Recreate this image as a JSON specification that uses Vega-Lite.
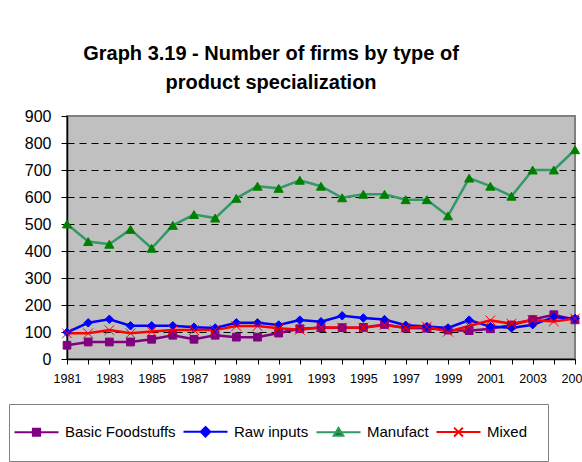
{
  "$schema": "https://vega.github.io/schema/vega-lite/v6.json",
  "width": 508,
  "height": 243,
  "autosize": "none",
  "padding": {"left": 67, "top": 116, "right": 7, "bottom": 103},
  "background": "white",
  "title": {
    "text": ["Graph 3.19 - Number of firms by  type of", "product specialization"],
    "font": "Liberation Sans",
    "fontSize": 20,
    "fontWeight": "bold",
    "color": "#000000",
    "anchor": "middle",
    "dx": -50,
    "dy": 21,
    "lineHeight": 29,
    "baseline": "alphabetic",
    "offset": 20
  },
  "datasets": {
    "rows": [
      {"year": 1981, "series": "Basic Foodstuffs", "value": 51},
      {"year": 1982, "series": "Basic Foodstuffs", "value": 63},
      {"year": 1983, "series": "Basic Foodstuffs", "value": 63},
      {"year": 1984, "series": "Basic Foodstuffs", "value": 63},
      {"year": 1985, "series": "Basic Foodstuffs", "value": 73},
      {"year": 1986, "series": "Basic Foodstuffs", "value": 88},
      {"year": 1987, "series": "Basic Foodstuffs", "value": 73},
      {"year": 1988, "series": "Basic Foodstuffs", "value": 88},
      {"year": 1989, "series": "Basic Foodstuffs", "value": 81},
      {"year": 1990, "series": "Basic Foodstuffs", "value": 81},
      {"year": 1991, "series": "Basic Foodstuffs", "value": 96},
      {"year": 1992, "series": "Basic Foodstuffs", "value": 112},
      {"year": 1993, "series": "Basic Foodstuffs", "value": 116},
      {"year": 1994, "series": "Basic Foodstuffs", "value": 116},
      {"year": 1995, "series": "Basic Foodstuffs", "value": 117},
      {"year": 1996, "series": "Basic Foodstuffs", "value": 128},
      {"year": 1997, "series": "Basic Foodstuffs", "value": 115},
      {"year": 1998, "series": "Basic Foodstuffs", "value": 114},
      {"year": 1999, "series": "Basic Foodstuffs", "value": 107},
      {"year": 2000, "series": "Basic Foodstuffs", "value": 105},
      {"year": 2001, "series": "Basic Foodstuffs", "value": 112},
      {"year": 2002, "series": "Basic Foodstuffs", "value": 126},
      {"year": 2003, "series": "Basic Foodstuffs", "value": 146},
      {"year": 2004, "series": "Basic Foodstuffs", "value": 164},
      {"year": 2005, "series": "Basic Foodstuffs", "value": 145},
      {"year": 1981, "series": "Raw inputs", "value": 99},
      {"year": 1982, "series": "Raw inputs", "value": 134},
      {"year": 1983, "series": "Raw inputs", "value": 147},
      {"year": 1984, "series": "Raw inputs", "value": 123},
      {"year": 1985, "series": "Raw inputs", "value": 123},
      {"year": 1986, "series": "Raw inputs", "value": 123},
      {"year": 1987, "series": "Raw inputs", "value": 118},
      {"year": 1988, "series": "Raw inputs", "value": 115},
      {"year": 1989, "series": "Raw inputs", "value": 134},
      {"year": 1990, "series": "Raw inputs", "value": 134},
      {"year": 1991, "series": "Raw inputs", "value": 126},
      {"year": 1992, "series": "Raw inputs", "value": 144},
      {"year": 1993, "series": "Raw inputs", "value": 138},
      {"year": 1994, "series": "Raw inputs", "value": 160},
      {"year": 1995, "series": "Raw inputs", "value": 152},
      {"year": 1996, "series": "Raw inputs", "value": 146},
      {"year": 1997, "series": "Raw inputs", "value": 125},
      {"year": 1998, "series": "Raw inputs", "value": 120},
      {"year": 1999, "series": "Raw inputs", "value": 115},
      {"year": 2000, "series": "Raw inputs", "value": 144},
      {"year": 2001, "series": "Raw inputs", "value": 120},
      {"year": 2002, "series": "Raw inputs", "value": 115},
      {"year": 2003, "series": "Raw inputs", "value": 127},
      {"year": 2004, "series": "Raw inputs", "value": 155},
      {"year": 2005, "series": "Raw inputs", "value": 150},
      {"year": 1981, "series": "Manufact", "value": 500},
      {"year": 1982, "series": "Manufact", "value": 435},
      {"year": 1983, "series": "Manufact", "value": 425},
      {"year": 1984, "series": "Manufact", "value": 480},
      {"year": 1985, "series": "Manufact", "value": 410},
      {"year": 1986, "series": "Manufact", "value": 495},
      {"year": 1987, "series": "Manufact", "value": 535},
      {"year": 1988, "series": "Manufact", "value": 522},
      {"year": 1989, "series": "Manufact", "value": 595},
      {"year": 1990, "series": "Manufact", "value": 640},
      {"year": 1991, "series": "Manufact", "value": 632},
      {"year": 1992, "series": "Manufact", "value": 662},
      {"year": 1993, "series": "Manufact", "value": 640},
      {"year": 1994, "series": "Manufact", "value": 597},
      {"year": 1995, "series": "Manufact", "value": 610},
      {"year": 1996, "series": "Manufact", "value": 610},
      {"year": 1997, "series": "Manufact", "value": 590},
      {"year": 1998, "series": "Manufact", "value": 590},
      {"year": 1999, "series": "Manufact", "value": 530},
      {"year": 2000, "series": "Manufact", "value": 670},
      {"year": 2001, "series": "Manufact", "value": 640},
      {"year": 2002, "series": "Manufact", "value": 603},
      {"year": 2003, "series": "Manufact", "value": 700},
      {"year": 2004, "series": "Manufact", "value": 700},
      {"year": 2005, "series": "Manufact", "value": 775},
      {"year": 1981, "series": "Mixed", "value": 95},
      {"year": 1982, "series": "Mixed", "value": 95},
      {"year": 1983, "series": "Mixed", "value": 107},
      {"year": 1984, "series": "Mixed", "value": 95},
      {"year": 1985, "series": "Mixed", "value": 102},
      {"year": 1986, "series": "Mixed", "value": 107},
      {"year": 1987, "series": "Mixed", "value": 107},
      {"year": 1988, "series": "Mixed", "value": 107},
      {"year": 1989, "series": "Mixed", "value": 122},
      {"year": 1990, "series": "Mixed", "value": 122},
      {"year": 1991, "series": "Mixed", "value": 114},
      {"year": 1992, "series": "Mixed", "value": 108},
      {"year": 1993, "series": "Mixed", "value": 118},
      {"year": 1994, "series": "Mixed", "value": 116},
      {"year": 1995, "series": "Mixed", "value": 116},
      {"year": 1996, "series": "Mixed", "value": 126},
      {"year": 1997, "series": "Mixed", "value": 116},
      {"year": 1998, "series": "Mixed", "value": 120},
      {"year": 1999, "series": "Mixed", "value": 101},
      {"year": 2000, "series": "Mixed", "value": 122},
      {"year": 2001, "series": "Mixed", "value": 143},
      {"year": 2002, "series": "Mixed", "value": 131},
      {"year": 2003, "series": "Mixed", "value": 144},
      {"year": 2004, "series": "Mixed", "value": 139},
      {"year": 2005, "series": "Mixed", "value": 150}
    ]
  },
  "data": {"name": "rows"},
  "encoding": {
    "x": {
      "field": "year",
      "type": "quantitative",
      "scale": {"domain": [1981, 2005], "nice": false, "zero": false},
      "axis": {
        "title": null,
        "values": [1981,1982,1983,1984,1985,1986,1987,1988,1989,1990,1991,1992,1993,1994,1995,1996,1997,1998,1999,2000,2001,2002,2003,2004,2005],
        "format": "d",
        "labelExpr": "datum.value % 2 == 1 ? datum.label : ''",
        "labelFont": "Liberation Sans",
        "labelFontSize": 12.5,
        "labelColor": "#000000",
        "labelPadding": 8,
        "labelOverlap": false,
        "labelFlush": false,
        "tickSize": 5,
        "tickColor": "#000000",
        "domainColor": "#000000",
        "domainWidth": 1.5,
        "grid": false
      }
    },
    "y": {
      "field": "value",
      "type": "quantitative",
      "scale": {"domain": [0, 900], "nice": false},
      "axis": {
        "title": null,
        "values": [0,100,200,300,400,500,600,700,800,900],
        "labelFont": "Liberation Sans",
        "labelFontSize": 16,
        "labelColor": "#000000",
        "labelPadding": 10,
        "tickSize": 6,
        "tickColor": "#000000",
        "domainColor": "#000000",
        "domainWidth": 1.5,
        "grid": true,
        "gridColor": "#000000",
        "gridDash": [7, 5],
        "gridWidth": 1,
        "gridOpacity": {"condition": {"test": "datum.value == 0 || datum.value == 900", "value": 0}, "value": 1}
      }
    }
  },
  "layer": [
    {
      "mark": {"type": "line", "strokeWidth": 2.5},
      "encoding": {
        "stroke": {
          "field": "series",
          "type": "nominal",
          "sort": ["Basic Foodstuffs", "Raw inputs", "Manufact", "Mixed"],
          "scale": {
            "domain": ["Basic Foodstuffs", "Raw inputs", "Manufact", "Mixed"],
            "range": ["#800080", "#0000FF", "#339966", "#FF0000"]
          },
          "legend": {
            "title": null,
            "orient": "none",
            "direction": "horizontal",
            "legendX": -58,
            "legendY": 288,
            "padding": 20,
            "strokeColor": "#808080",
            "fillColor": "#FFFFFF",
            "symbolSize": 64,
            "symbolStrokeWidth": 2,
            "labelFont": "Liberation Sans",
            "labelFontSize": 15,
            "labelColor": "#000000",
            "labelOffset": 21,
            "columnPadding": 3,
            "labelLimit": 300,
            "labelExpr": "datum.label == 'Mixed' ? 'Mixed\u00a0\u00a0\u00a0\u00a0\u00a0\u00a0\u00a0\u00a0\u00a0\u00a0\u00a0\u00a0\u00a0\u00a0' : datum.label",
            "encode": {
              "symbols": {
                "update": {
                  "shape": {"signal": "datum.value == 'Basic Foodstuffs' ? 'M-5.5,0H5.5M-0.9,-0.9H0.9V0.9H-0.9Z' : datum.value == 'Raw inputs' ? 'M-5.5,0H5.5M0,-1.2L1.2,0L0,1.2L-1.2,0Z' : datum.value == 'Manufact' ? 'M-5.5,0H5.5M0,-1.1L1.2,0.9L-1.2,0.9Z' : 'M-5.5,0H5.5M-1.1,-1.1L1.1,1.1M-1.1,1.1L1.1,-1.1'"},
                  "fill": {"signal": "datum.value == 'Basic Foodstuffs' ? '#800080' : datum.value == 'Raw inputs' ? '#0000FF' : datum.value == 'Manufact' ? '#008000' : 'transparent'"},
                  "strokeWidth": {"value": 2},
                  "opacity": {"value": 1}
                }
              }
            }
          }
        }
      }
    },
    {
      "mark": {"type": "point", "filled": true, "opacity": 1},
      "encoding": {
        "shape": {
          "field": "series",
          "type": "nominal",
          "scale": {
            "domain": ["Basic Foodstuffs", "Raw inputs", "Manufact", "Mixed"],
            "range": ["square", "diamond", "triangle-up", "M-1,-1L1,1M-1,1L1,-1"]
          },
          "legend": null
        },
        "fill": {
          "field": "series",
          "type": "nominal",
          "scale": {
            "domain": ["Basic Foodstuffs", "Raw inputs", "Manufact", "Mixed"],
            "range": ["#800080", "#0000FF", "#008000", "#FF0000"]
          },
          "legend": null
        },
        "stroke": {
          "field": "series",
          "type": "nominal",
          "scale": {
            "domain": ["Basic Foodstuffs", "Raw inputs", "Manufact", "Mixed"],
            "range": ["#800080", "#0000FF", "#008000", "#FF0000"]
          },
          "legend": null
        },
        "size": {
          "field": "series",
          "type": "nominal",
          "scale": {
            "domain": ["Basic Foodstuffs", "Raw inputs", "Manufact", "Mixed"],
            "range": [60, 95, 120, 110]
          },
          "legend": null
        },
        "strokeWidth": {
          "field": "series",
          "type": "nominal",
          "scale": {
            "domain": ["Basic Foodstuffs", "Raw inputs", "Manufact", "Mixed"],
            "range": [1, 1, 1, 2.5]
          },
          "legend": null
        }
      }
    }
  ],
  "resolve": {"scale": {"stroke": "independent"}},
  "config": {
    "view": {"fill": "#C0C0C0", "stroke": "#808080", "strokeWidth": 2},
    "font": "Liberation Sans"
  }
}
